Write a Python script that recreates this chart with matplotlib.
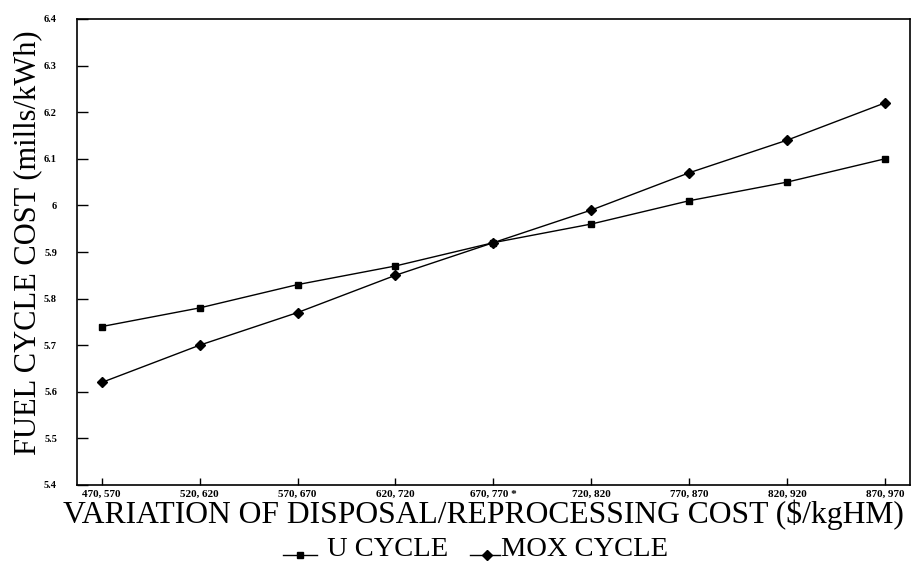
import matplotlib
matplotlib.use("Agg")
import matplotlib.pyplot as plt
from matplotlib.lines import Line2D

categories = ["470, 570", "520, 620", "570, 670", "620, 720", "670, 770 *",
              "720, 820", "770, 870", "820, 920", "870, 970"]
u_cycle = [5.74, 5.78, 5.83, 5.87, 5.92, 5.96, 6.01, 6.05, 6.10]
mox_cycle = [5.62, 5.70, 5.77, 5.85, 5.92, 5.99, 6.07, 6.14, 6.22]
y_ticks = [5.4, 5.5, 5.6, 5.7, 5.8, 5.9, 6.0, 6.1, 6.2, 6.3, 6.4]
y_tick_labels = ["5.4", "5.5", "5.6", "5.7", "5.8", "5.9", "6", "6.1", "6.2", "6.3", "6.4"]
series_names = ["U CYCLE", "MOX CYCLE"]

serif = ["Liberation Serif", "DejaVu Serif"]
W, H = 913, 563
PT = 72 / 100  # points per pixel

fig = plt.figure(figsize=(W / 100, H / 100), dpi=100)
L, R, B, T = 77, 910, 485, 19
ax = fig.add_axes([L / W, 1 - B / H, (R - L) / W, (B - T) / H])

x = list(range(len(categories)))
ax.plot(x, u_cycle, color="black", lw=1.0, marker="s", ms=5, mfc="black", mec="black")
ax.plot(x, mox_cycle, color="black", lw=1.0, marker="D", ms=5, mfc="black", mec="black")

ax.set_xlim(-0.252, 8.255)
ax.set_ylim(5.4, 6.4)
ax.set_xticks(x)
ax.set_xticklabels(categories, fontfamily=serif, fontweight="bold", fontsize=8)
ax.set_yticks(y_ticks)
ax.set_yticklabels(y_tick_labels, fontfamily=serif, fontweight="bold", fontsize=7.5)
ax.tick_params(axis="y", direction="in", length=11 * PT, width=1, color="black", pad=20 * PT)
ax.tick_params(axis="x", direction="in", length=7 * PT, width=1, color="black", pad=5 * PT)
for s in ax.spines.values():
    s.set_linewidth(1.2)
    s.set_color("black")

ax.set_xlabel("VARIATION OF DISPOSAL/REPROCESSING COST ($/kgHM)",
              fontfamily=serif, fontsize=22.8, va="baseline")
ax.xaxis.set_label_coords((483.5 - L) / (R - L), (B - 523) / (B - T))
ax.set_ylabel("FUEL CYCLE COST (mills/kWh)", fontfamily=serif, fontsize=22, va="center")
ax.yaxis.set_label_coords((28 - L) / (R - L), (B - 242.5) / (B - T))

# legend (keys sit at the text baseline as in the reference)
base_y = 1 - 556 / H
line_y = 1 - 555 / H
keys = [("s", 283, 317, 300, 327), ("D", 470, 500, 487, 501)]
for (mk, x0, x1, xm, xt), name in zip(keys, series_names):
    fig.add_artist(Line2D([x0 / W, x1 / W], [line_y, line_y], color="black", lw=1.0,
                          transform=fig.transFigure))
    fig.add_artist(Line2D([xm / W], [line_y], color="black", marker=mk, ms=5,
                          transform=fig.transFigure))
    fig.text(xt / W, base_y, name, fontfamily=serif, fontsize=20.5,
             ha="left", va="baseline")

fig.savefig("out.png", dpi=100, facecolor="white")
